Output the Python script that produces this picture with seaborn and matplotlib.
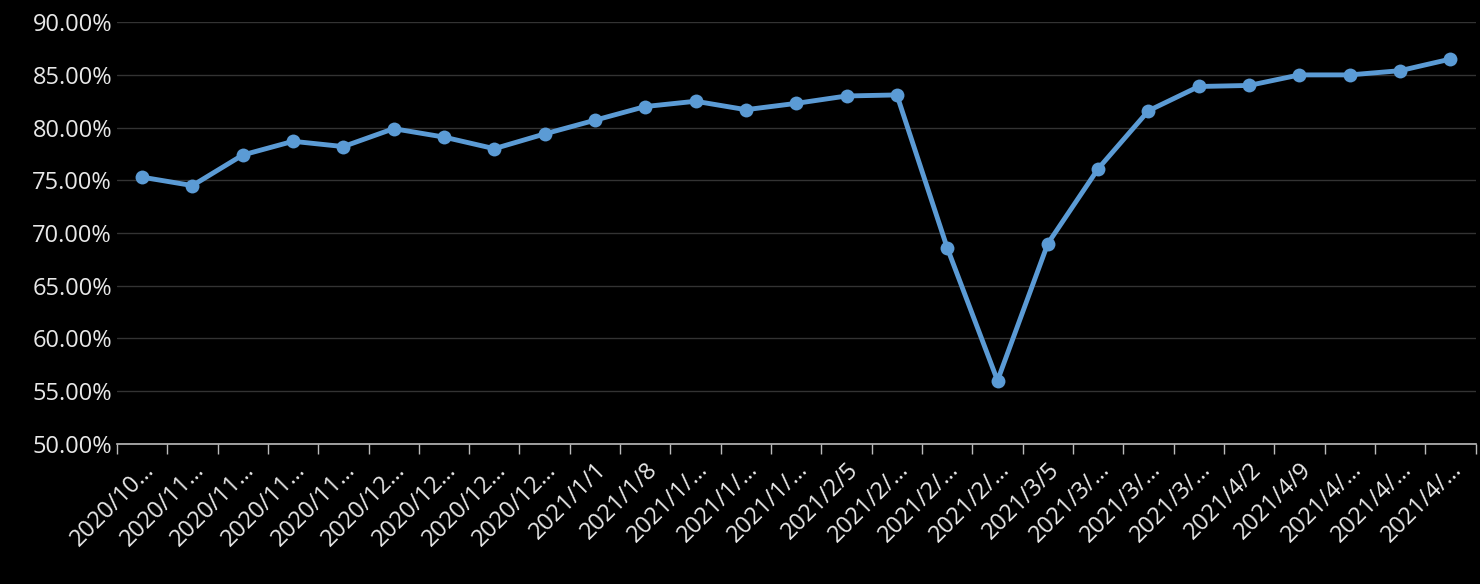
import matplotlib
matplotlib.use("Agg")
import matplotlib.pyplot as plt
import numpy as np
import pandas as pd
import seaborn as sns
from matplotlib.ticker import FuncFormatter, FixedLocator

dates = ["2020/10/30", "2020/11/6", "2020/11/13", "2020/11/20", "2020/11/27",
         "2020/12/4", "2020/12/11", "2020/12/18", "2020/12/25", "2021/1/1",
         "2021/1/8", "2021/1/15", "2021/1/22", "2021/1/29", "2021/2/5",
         "2021/2/12", "2021/2/19", "2021/2/26", "2021/3/5", "2021/3/12",
         "2021/3/19", "2021/3/26", "2021/4/2", "2021/4/9", "2021/4/16",
         "2021/4/23", "2021/4/30"]
values = [75.3, 74.5, 77.4, 78.7, 78.2, 79.9, 79.1, 78.0, 79.4, 80.7,
          82.0, 82.5, 81.7, 82.3, 83.0, 83.1, 68.6, 56.0, 69.0, 76.1,
          81.6, 83.9, 84.0, 85.0, 85.0, 85.4, 86.5]


def shorten(label, n=8):
    return label if len(label) <= n else label[:n - 1] + "…"


df = pd.DataFrame({"x": np.arange(len(dates)), "v": values})

sns.set_style("dark")
plt.rcParams["font.family"] = ["Open Sans", "DejaVu Sans"]
plt.rcParams["xtick.bottom"] = True

fig, ax = plt.subplots(figsize=(14.8, 5.84), dpi=100)
fig.patch.set_facecolor("black")
ax.set_facecolor("black")
fig.subplots_adjust(left=0.079, right=0.997, top=0.962, bottom=0.24)

sns.lineplot(data=df, x="x", y="v", ax=ax, color="#5b9bd5", linewidth=3.5,
             marker="o", markersize=10, markeredgewidth=0)

ax.set_xlim(-0.5, len(dates) - 0.5)
ax.set_ylim(50, 90)
ax.set_yticks(np.arange(50, 91, 5))
ax.yaxis.set_major_formatter(FuncFormatter(lambda v, p: f"{v:.2f}%"))
ax.grid(axis="y", color="#333333", linewidth=1)
ax.grid(axis="x", visible=False)

ax.set_xticks(df["x"])
ax.set_xticklabels([shorten(d) for d in dates], rotation=45, ha="right",
                   rotation_mode="anchor", fontsize=17, color="#e8e8e8")
ax.tick_params(axis="x", which="major", length=0, pad=10)
ax.xaxis.set_minor_locator(FixedLocator(np.arange(-0.5, len(dates), 1)))
ax.tick_params(axis="x", which="minor", bottom=True, length=7,
               color="#bbbbbb", width=1)
ax.tick_params(axis="y", length=0, labelsize=17, labelcolor="#e8e8e8")

for s in ["top", "right", "left"]:
    ax.spines[s].set_visible(False)
ax.spines["bottom"].set_color("#bbbbbb")
ax.spines["bottom"].set_linewidth(1.2)
ax.set_xlabel("")
ax.set_ylabel("")

fig.savefig("out.png", facecolor="black")
